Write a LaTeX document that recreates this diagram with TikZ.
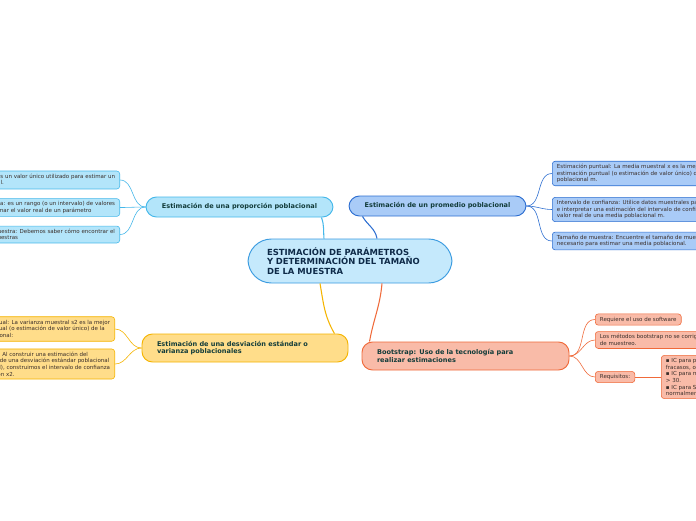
\documentclass[tikz,border=0pt]{standalone}
\usepackage{fontspec}
\setmainfont{DejaVu Sans}
\usetikzlibrary{positioning, calc}
\definecolor{centerfill}{HTML}{C5E9FC}
\definecolor{centerline}{HTML}{3A9BE0}
\definecolor{propfill}{HTML}{B3E5FA}
\definecolor{propline}{HTML}{45B8EA}
\definecolor{mediafill}{HTML}{A9CBF7}
\definecolor{medialine}{HTML}{2E6FD1}
\definecolor{desvfill}{HTML}{FFDD8A}
\definecolor{desvline}{HTML}{F5B400}
\definecolor{bootfill}{HTML}{F9BBA8}
\definecolor{bootline}{HTML}{F06A3A}
\definecolor{titletext}{HTML}{0E2A48}
\definecolor{maintext}{HTML}{123C3A}
\definecolor{leaftext}{HTML}{3A2E2A}

\tikzset{
  topic/.style={draw, line width=0.8pt, rounded corners=9, inner sep=0pt, font=\fontsize{5.6pt}{6.6pt}\selectfont\bfseries, text=maintext, align=left},
  leaf/.style={draw, line width=0.5pt, rounded corners=2.5, inner xsep=4, inner ysep=2.5, font=\fontsize{4.7pt}{5.6pt}\selectfont, text=leaftext, align=left},
  branch/.style={line width=0.5pt}
}

\begin{document}
\begin{tikzpicture}[x=0.03cm, y=-0.03cm]
  \useasboundingbox (0,0) rectangle (696,520);
  \fill[white] (0,0) rectangle (696,520);
  \clip (0,0) rectangle (696,520);

  % Central topic
  \node[draw=centerline, fill=centerfill, line width=0.8pt, rounded corners=20, minimum width=204*0.03cm, minimum height=44*0.03cm, text width=166*0.03cm, align=left, font=\fontsize{7.2pt}{8.4pt}\selectfont\bfseries, text=titletext] (center) at (350,261)
    {ESTIMACIÓN DE PARÁMETROS\\Y DETERMINACIÓN DEL TAMAÑO\\DE LA MUESTRA};

  % Main topics
  \node[topic, draw=propline, fill=propfill, minimum width=187*0.03cm, minimum height=20*0.03cm, align=center] (prop) at (239.5,207)
    {Estimación de una proporción poblacional};
  \node[topic, draw=medialine, fill=mediafill, minimum width=177*0.03cm, minimum height=20*0.03cm, align=center] (media) at (437.5,206)
    {Estimación de un promedio poblacional};
  \node[topic, draw=desvline, fill=desvfill, minimum width=206*0.03cm, minimum height=28*0.03cm, text width=176*0.03cm] (desv) at (245,348)
    {Estimación de una desviación estándar o\\varianza poblacionales};
  \node[topic, draw=bootline, fill=bootfill, minimum width=207*0.03cm, minimum height=28*0.03cm, text width=177*0.03cm] (boot) at (465.5,356)
    {Bootstrap: Uso de la tecnología para\\realizar estimaciones};

  % Leaves of prop
  \node[leaf, draw=propline, fill=propfill, anchor=east] (prop1) at (120,180)
    {Estimación puntual: es un valor único utilizado para estimar un\\parámetro poblacional.};
  \node[leaf, draw=propline, fill=propfill, anchor=east] (prop2) at (120,207.5)
    {Intervalo de confianza: es un rango (o un intervalo) de valores\\que se usa para estimar el valor real de un parámetro};
  \node[leaf, draw=propline, fill=propfill, anchor=east] (prop3) at (120,234.5)
    {Tamaño de muestra: Debemos saber cómo encontrar el\\tamaño de muestras};

  % Leaves of media
  \node[leaf, draw=medialine, fill=mediafill, anchor=west] (media1) at (552,173.5)
    {Estimación puntual: La media muestral x es la mejor\\estimación puntual (o estimación de valor único) de la media\\poblacional m.};
  \node[leaf, draw=medialine, fill=mediafill, anchor=west] (media2) at (552,209.5)
    {Intervalo de confianza: Utilice datos muestrales para construir\\e interpretar una estimación del intervalo de confianza del\\valor real de una media poblacional m.};
  \node[leaf, draw=medialine, fill=mediafill, anchor=west] (media3) at (552,241)
    {Tamaño de muestra: Encuentre el tamaño de muestra\\necesario para estimar una media poblacional.};

  % Leaves of desv
  \node[leaf, draw=desvline, fill=desvfill, anchor=east] (desv1) at (115,329)
    {Estimación puntual: La varianza muestral s2 es la mejor\\estimación puntual (o estimación de valor único) de la\\varianza poblacional:};
  \node[leaf, draw=desvline, fill=desvfill, anchor=east] (desv2) at (115,364)
    {Intervalo de confianza: Al construir una estimación del\\intervalo de confianza de una desviación estándar poblacional\\(o varianza poblacional), construimos el intervalo de confianza\\utilizando la distribución x2.};

  % Leaves of boot
  \node[leaf, draw=bootline, fill=bootfill, anchor=west] (boot1) at (595,319.5)
    {Requiere el uso de software};
  \node[leaf, draw=bootline, fill=bootfill, anchor=west] (boot2) at (595,340)
    {Los métodos bootstrap no se corrigen por deficiencias\\de muestreo.};
  \node[leaf, draw=bootline, fill=bootfill, anchor=west] (boot3) at (595,377)
    {Requisitos:};
  \node[leaf, draw=bootline, fill=bootfill, anchor=west] (boot4) at (661,377)
    {▪ IC para p: al menos 5 éxitos y 5\\fracasos, o ...\\▪ IC para m: población normal o n\\> 30.\\▪ IC para S: la población debe estar\\normalmente distribuida.};

  % Connectors from the central topic
  \draw[propline, line width=0.9pt] ($(center.north)+(-26,0)$) to[out=95, in=-70] ($(prop.south east)+(-12,0)$);
  \draw[medialine, line width=0.9pt] ($(center.north)+(27,0)$) to[out=100, in=-60] ($(media.south west)+(14,0)$);
  \draw[desvline, line width=0.9pt] ($(center.south)+(-30,0)$) to[out=-80, in=120] ($(desv.north east)+(-14,0)$);
  \draw[bootline, line width=0.9pt] ($(center.south)+(32,0)$) to[out=-95, in=80] ($(boot.north west)+(8,0)$);

  % Connectors to leaves
  \foreach \leafname in {prop1, prop2, prop3}
    \draw[branch, propline] (prop.west) to[out=180, in=0] (\leafname.east);
  \foreach \leafname in {media1, media2, media3}
    \draw[branch, medialine] (media.east) to[out=0, in=180] (\leafname.west);
  \foreach \leafname in {desv1, desv2}
    \draw[branch, desvline] (desv.west) to[out=180, in=0] (\leafname.east);
  \foreach \leafname in {boot1, boot2, boot3}
    \draw[branch, bootline] (boot.east) to[out=0, in=180] (\leafname.west);
  \draw[branch, bootline] (boot3.east) -- (boot4.west);
\end{tikzpicture}
\end{document}
